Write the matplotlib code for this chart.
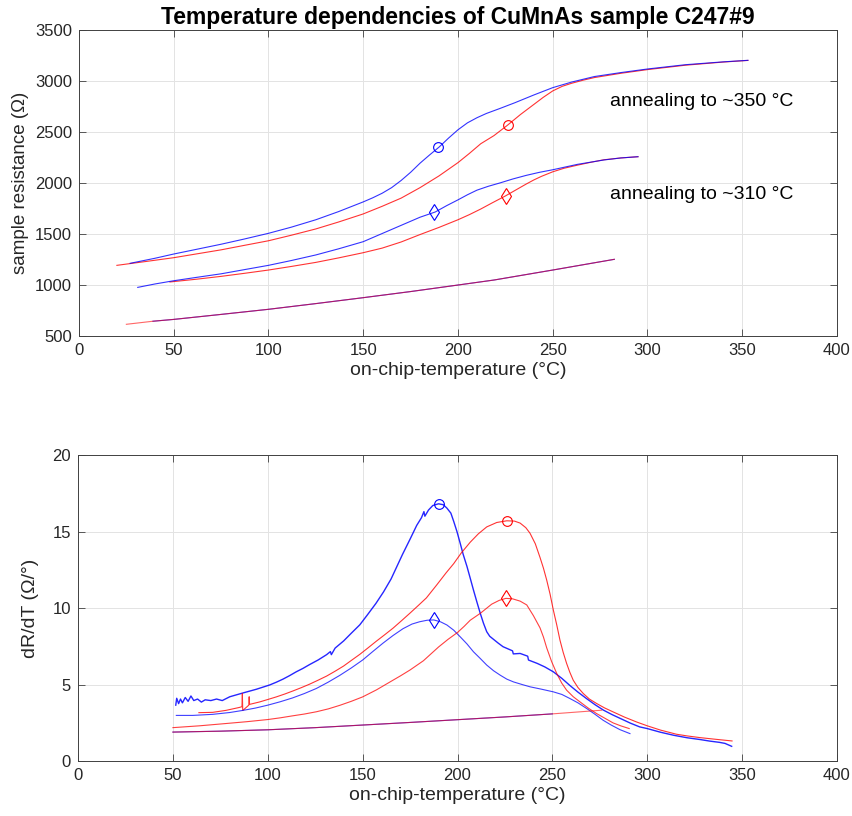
import matplotlib
matplotlib.use("Agg")
import matplotlib.pyplot as plt

plt.rcParams['font.family'] = ['Liberation Sans', 'DejaVu Sans']

# ---- top panel: R(T) ----
r350_heat_T = [27, 40, 50, 62, 75, 87, 100, 112, 125, 137, 150, 155, 160, 165, 170, 175, 180, 185, 190, 195, 200,
               205, 210, 215, 222, 230, 240, 250, 260, 272, 286, 300, 320, 340, 353]
r350_heat_R = [1213, 1262, 1304, 1350, 1400, 1450, 1507, 1567, 1640, 1720, 1815, 1855, 1900, 1955, 2025, 2105, 2195,
               2275, 2352, 2440, 2522, 2590, 2640, 2682, 2730, 2787, 2863, 2935, 2990, 3044, 3083, 3118, 3160, 3188, 3203]
r350_cool_T = [20, 35, 50, 62, 75, 87, 100, 112, 125, 137, 150, 160, 170, 180, 190, 200, 206, 212, 219, 226, 233,
               240, 245, 250, 255, 260, 266, 272, 286, 300, 320, 340, 353]
r350_cool_R = [1193, 1230, 1268, 1305, 1345, 1388, 1434, 1488, 1550, 1618, 1697, 1772, 1852, 1955, 2070, 2200, 2290,
               2385, 2465, 2565, 2672, 2770, 2840, 2903, 2948, 2978, 3008, 3034, 3076, 3112, 3155, 3186, 3202]

r310_heat_T = [31, 40, 50, 62, 75, 87, 100, 112, 125, 137, 150, 160, 170, 180, 188, 194, 200, 205, 210, 216, 222,
               229, 236, 243, 250, 263, 277, 286, 295]
r310_heat_R = [977, 1010, 1042, 1075, 1110, 1150, 1193, 1240, 1295, 1355, 1425, 1505, 1585, 1665, 1716, 1778, 1835,
               1885, 1930, 1968, 2000, 2040, 2075, 2105, 2130, 2183, 2226, 2246, 2258]
r310_cool_T = [48, 62, 75, 87, 100, 112, 125, 137, 150, 160, 170, 180, 190, 200, 206, 212, 218, 225, 231, 236, 240,
               244, 250, 256, 263, 270, 277, 286, 295]
r310_cool_R = [1030, 1057, 1085, 1114, 1147, 1182, 1222, 1266, 1317, 1362, 1422, 1495, 1565, 1640, 1690, 1745, 1805,
               1873, 1937, 1990, 2030, 2065, 2110, 2145, 2175, 2203, 2228, 2246, 2258]

rbase_T = [25, 39, 50, 75, 100, 125, 150, 175, 200, 219, 250, 282.5]
rbase_R = [615, 645, 663, 712, 762, 818, 876, 936, 1000, 1049, 1147, 1252]

# peak markers (top)
top_mk_circ_T = [189.5, 226.3]
top_mk_circ_R = [2350, 2565]
top_mk_diam_T = [187.5, 225.4]
top_mk_diam_R = [1716, 1873]

# ---- bottom panel: dR/dT ----
d350_heat_T = [51.5, 52, 53, 54, 55, 56.5, 58, 59.5, 61, 63, 65, 67, 70, 73, 76, 80, 87, 94, 101, 104.5, 108, 111.5,
               115, 118.5, 122, 126.5, 131, 133, 133.5, 135.5, 140, 144, 148.5, 152.5, 157, 161, 165, 168, 171, 175,
               178.5, 181, 182.3, 182.8, 184.7, 187, 190, 192.5, 194.4, 196.5, 198, 199.7, 201.4, 203, 205, 206.7,
               208.4, 210.2, 212, 213.7, 215.4, 217, 219, 221.5, 224, 229, 229.4, 233, 237, 237.4, 242, 246, 250.5,
               255, 259, 263.5, 268, 272.5, 277, 281.5, 286, 291, 296, 300, 307, 314, 321, 328, 333, 338, 341, 344.5]
d350_heat_V = [3.65, 4.1, 3.75, 4.05, 3.8, 4.15, 3.9, 4.25, 3.95, 4.05, 3.85, 4.0, 3.95, 4.05, 3.95, 4.2, 4.45, 4.69,
               4.97, 5.15, 5.35, 5.58, 5.83, 6.05, 6.3, 6.6, 6.95, 7.15, 6.95, 7.38, 7.85, 8.35, 8.9, 9.55, 10.3,
               11.05, 11.9, 12.7, 13.5, 14.5, 15.4, 15.9, 16.3, 16.0, 16.4, 16.7, 16.81, 16.75, 16.53, 16.2, 15.66,
               15.0, 14.24, 13.5, 12.71, 11.95, 11.18, 10.4, 9.65, 9.0, 8.45, 8.15, 7.95, 7.7, 7.47, 7.2, 7.0, 7.03,
               6.85, 6.6, 6.38, 6.15, 5.83, 5.4, 4.96, 4.5, 4.08, 3.68, 3.32, 3.03, 2.77, 2.48, 2.23, 2.12, 1.88,
               1.68, 1.52, 1.40, 1.30, 1.22, 1.15, 0.96]
d350_cool_T = [63.7, 71, 78, 85, 86.4, 86.6, 86.8, 90, 90.2, 90.4, 95.7, 100, 104.5, 109, 113.3, 117.6, 122, 126.5,
               131, 135.5, 140, 144, 148.5, 152.7, 157, 161.5, 166, 170.5, 175, 179.3, 183.6, 189, 194, 198, 202,
               206.7, 211, 215.4, 220.7, 226, 230, 233, 236, 238.2, 241, 243.5, 245.3, 247, 248.8, 250.5, 252.3, 254,
               255.7, 257.5, 259.2, 261, 263.5, 266.3, 269.5, 273.3, 277.5, 282, 288, 294.4, 300, 307, 315.4, 321,
               327.7, 336, 344.7]
d350_cool_V = [3.16, 3.18, 3.31, 3.5, 3.55, 4.4, 3.3, 3.65, 4.2, 3.7, 3.86, 4.02, 4.19, 4.38, 4.58, 4.79, 5.02, 5.28,
               5.55, 5.87, 6.21, 6.57, 6.97, 7.38, 7.81, 8.24, 8.68, 9.17, 9.67, 10.16, 10.66, 11.5, 12.3, 12.9, 13.6,
               14.3, 14.85, 15.3, 15.59, 15.70, 15.68, 15.55, 15.25, 14.89, 14.2, 13.3, 12.6, 11.83, 10.9, 9.87, 8.9,
               7.90, 7.1, 6.38, 5.8, 5.28, 4.8, 4.41, 4.05, 3.76, 3.47, 3.21, 2.87, 2.55, 2.3, 2.02, 1.75, 1.64, 1.53,
               1.42, 1.31]

d310_heat_T = [51.8, 60.5, 71, 80, 87, 93.5, 100, 106.5, 113, 119.3, 125.6, 131.8, 138, 144, 150, 155.3, 160.7, 166,
               171.3, 176, 180, 184, 187.5, 191, 194.4, 198, 201.4, 205, 208.4, 212, 215.4, 219, 222.5, 226, 229.5,
               234, 238.2, 244, 250.5, 255, 259.3, 263.5, 268.1, 272.5, 276.8, 281, 285.6, 290.9]
d310_heat_V = [2.98, 2.98, 3.05, 3.17, 3.31, 3.46, 3.65, 3.87, 4.12, 4.41, 4.74, 5.15, 5.6, 6.08, 6.6, 7.15, 7.7,
               8.2, 8.65, 8.95, 9.1, 9.2, 9.22, 9.1, 8.89, 8.55, 8.12, 7.65, 7.14, 6.7, 6.27, 5.9, 5.61, 5.35, 5.17,
               5.0, 4.85, 4.7, 4.52, 4.35, 4.08, 3.8, 3.43, 3.05, 2.66, 2.35, 2.05, 1.79]
d310_cool_T = [50, 64, 78, 89, 100, 106.5, 113, 119.3, 125.7, 132, 138, 144, 150, 157.3, 164.6, 170, 175, 182, 186,
               190, 195, 200, 203.5, 206.7, 212, 218, 222, 225.5, 229, 233, 236.5, 240, 243.5, 245.3, 247, 249.6,
               252.3, 254.9, 257.5, 261, 264.6, 269, 273.3, 277.6, 282, 286, 290.5]
d310_cool_V = [2.18, 2.30, 2.45, 2.57, 2.71, 2.82, 2.95, 3.07, 3.22, 3.41, 3.64, 3.9, 4.19, 4.65, 5.18, 5.57, 5.95,
               6.55, 7.0, 7.45, 7.95, 8.4, 8.8, 9.2, 9.65, 10.25, 10.5, 10.63, 10.6, 10.45, 10.2, 9.5, 8.7, 8.1, 7.4,
               6.5, 5.72, 5.1, 4.63, 4.2, 3.86, 3.45, 3.10, 2.8, 2.49, 2.3, 2.12]

dbase_T = [50, 75, 100, 125, 150, 175, 200, 225, 250, 276]
dbase_V = [1.89, 1.95, 2.04, 2.18, 2.35, 2.52, 2.70, 2.88, 3.08, 3.32]

bot_mk_circ_T = [190, 226]
bot_mk_circ_V = [16.81, 15.70]
bot_mk_diam_T = [187.5, 225.5]
bot_mk_diam_V = [9.22, 10.63]

AX_COL = '#404040'
TXT_COL = '#262626'
LW = 0.8

fig = plt.figure(figsize=(8.53, 8.16), dpi=100)
ax1 = fig.add_axes([0.0926, 0.5882, 0.8886, 0.375])
ax2 = fig.add_axes([0.0915, 0.0674, 0.8897, 0.375])


def style(ax, ylim, yticks):
    ax.set_xlim(0, 400)
    ax.set_ylim(*ylim)
    ax.set_xticks(range(0, 401, 50))
    ax.set_yticks(yticks)
    ax.grid(True, color='#e3e3e3', linewidth=0.7)
    ax.set_axisbelow(True)
    ax.tick_params(direction='in', length=5, width=0.6, top=True, right=True,
                   labelsize=12, colors=AX_COL, labelcolor=TXT_COL, pad=5)
    for s in ax.spines.values():
        s.set_color(AX_COL)
        s.set_linewidth(0.7)


def markers(ax, ct, cv, dt, dv):
    ax.plot(ct[:1], cv[:1], 'o', mfc='none', mec='blue', ms=7, mew=0.8)
    ax.plot(ct[1:], cv[1:], 'o', mfc='none', mec='red', ms=7, mew=0.8)
    ax.plot(dt[:1], dv[:1], 'd', mfc='none', mec='blue', ms=8, mew=0.8)
    ax.plot(dt[1:], dv[1:], 'd', mfc='none', mec='red', ms=8, mew=0.8)


# top
ax1.plot(r350_cool_T, r350_cool_R, color='red', lw=LW, alpha=0.8)
ax1.plot(r350_heat_T, r350_heat_R, color='blue', lw=LW, alpha=0.8)
ax1.plot(r310_cool_T, r310_cool_R, color='red', lw=LW, alpha=0.8)
ax1.plot(r310_heat_T, r310_heat_R, color='blue', lw=LW, alpha=0.8)
ax1.plot(rbase_T[1:], rbase_R[1:], color='blue', lw=LW, alpha=0.8)
ax1.plot(rbase_T, rbase_R, color='red', lw=LW, alpha=0.6)
markers(ax1, top_mk_circ_T, top_mk_circ_R, top_mk_diam_T, top_mk_diam_R)
ax1.text(280, 2800, 'annealing to ~350 °C', fontsize=14, va='center', ha='left')
ax1.text(280, 1890, 'annealing to ~310 °C', fontsize=14, va='center', ha='left')
style(ax1, (500, 3500), range(500, 3501, 500))
ax1.set_xlabel('on-chip-temperature (°C)', fontsize=14, color=TXT_COL, labelpad=3)
ax1.set_ylabel('sample resistance (Ω)', fontsize=13.5, color=TXT_COL, labelpad=4)
ax1.set_title('Temperature dependencies of CuMnAs sample C247#9', fontsize=16.5,
              fontweight='bold', pad=4)

# bottom
ax2.plot(d350_heat_T, d350_heat_V, color='blue', lw=1.0, alpha=0.85)
ax2.plot(d350_cool_T, d350_cool_V, color='red', lw=LW, alpha=0.8)
ax2.plot(d310_heat_T, d310_heat_V, color='blue', lw=LW, alpha=0.75)
ax2.plot(d310_cool_T, d310_cool_V, color='red', lw=LW, alpha=0.75)
ax2.plot(dbase_T[:-1], dbase_V[:-1], color='blue', lw=LW, alpha=0.8)
ax2.plot(dbase_T, dbase_V, color='red', lw=LW, alpha=0.6)
markers(ax2, bot_mk_circ_T, bot_mk_circ_V, bot_mk_diam_T, bot_mk_diam_V)
style(ax2, (0, 20), range(0, 21, 5))
ax2.set_xlabel('on-chip-temperature (°C)', fontsize=14, color=TXT_COL, labelpad=3)
ax2.set_ylabel('dR/dT (Ω/°)', fontsize=14, color=TXT_COL, labelpad=10)

fig.savefig('out.png', dpi=100)
